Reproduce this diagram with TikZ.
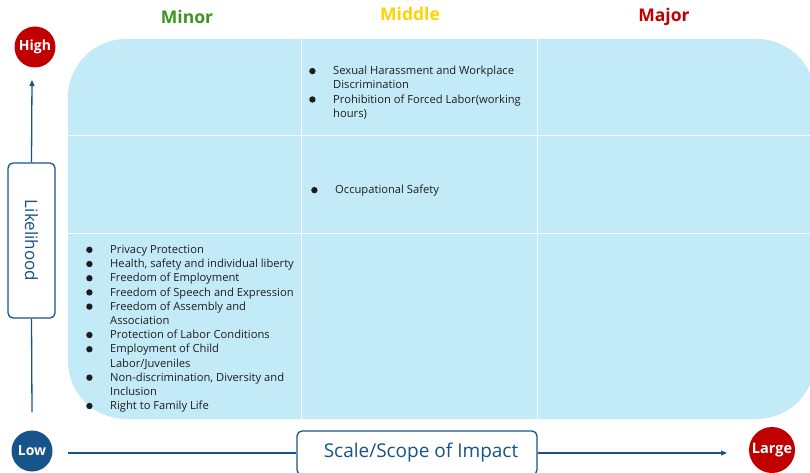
\documentclass[tikz,border=0pt]{standalone}
\usepackage{graphicx}
\usepackage{fontspec}
\setmainfont{Open Sans}
\usetikzlibrary{arrows.meta,positioning}

\definecolor{cellblue}{HTML}{C3EBF7}
\definecolor{axisblue}{HTML}{16548A}
\definecolor{majorred}{HTML}{C00000}
\definecolor{minorgreen}{HTML}{3A961E}
\definecolor{middleyellow}{HTML}{FFD200}
\definecolor{itemtext}{HTML}{1E1E1E}

\newcommand{\riskbullet}{\makebox[24pt][l]{\tikz[baseline=-3.6pt]\fill (4.5pt,0pt) circle (3.2pt);}}
\newcommand{\riskindent}{\hspace*{24pt}}

\begin{document}
\begin{tikzpicture}[
    x=1pt, y=-1pt,
    heading/.style={font=\fontsize{17.5}{17.5}\selectfont\bfseries},
    endpoint/.style={circle, minimum size=41pt, inner sep=0pt, text=white, font=\fontsize{14}{14}\selectfont\bfseries},
    axisbox/.style={draw=axisblue, line width=1.3pt, rounded corners=5pt, fill=white, text=axisblue, inner sep=0pt},
    items/.style={align=left, anchor=north west, inner sep=0pt, text=itemtext, font=\fontsize{11.2}{14.2}\selectfont},
    celldivider/.style={white, line width=0.8pt},
    axisplain/.style={draw=axisblue, line width=1.3pt},
    axisline/.style={axisplain, -{Triangle[length=6pt,width=5pt]}}
]
\useasboundingbox (0,0) rectangle (810,473);

% Risk matrix background
\fill[cellblue, rounded corners=58pt] (68,39) rectangle (815,419);
\draw[celldivider] (301,39) -- (301,419);
\draw[celldivider] (537,39) -- (537,419);
\draw[celldivider] (68,135) -- (815,135);
\draw[celldivider] (68,233) -- (815,233);

% Impact levels (top)
\node[heading, text=minorgreen] (minor) at (187,17) {Minor};
\node[heading, text=middleyellow] (middle) at (410,14) {Middle};
\node[heading, text=majorred] (major) at (664,17) {Major};

% Axis end points
\node[endpoint, fill=majorred] (high) at (35,47) {High};
\node[endpoint, fill=axisblue] (low) at (32,451) {Low};
\node[endpoint, fill=majorred, minimum size=46pt, font=\fontsize{14.5}{14.5}\selectfont\bfseries] (large) at (772,450) {Large};

% Axis titles
\node[axisbox, minimum width=47pt, minimum height=155pt] (likely) at (31.5,240.5) {\rotatebox{-90}{\fontsize{17}{17}\selectfont Likelihood}};
\node[axisbox, minimum width=240pt, minimum height=44pt, font=\fontsize{19}{19}\selectfont] (scale) at (417,453) {\hspace*{8pt}Scale/Scope of Impact};

% Axes
\coordinate (ybottom) at (32,412);
\coordinate (ytop) at (32,80);
\coordinate (xstart) at (68,453);
\coordinate (xend) at (727,453);
\draw[axisplain] (ybottom) -- (likely.south);
\draw[axisline] (likely.north) -- (ytop);
\draw[axisplain] (xstart) -- (scale.west);
\draw[axisline] (scale.east) -- (xend);

% Risk items
\node[items] (middlehigh) at (309,66) {\riskbullet Sexual Harassment and Workplace\\
    \riskindent Discrimination\\
    \riskbullet Prohibition of Forced Labor(working\\
    \riskindent hours)};
\node[items] (middlemid) at (311,185) {\riskbullet Occupational Safety};
\node[items] (minorlow) at (86,245) {\riskbullet Privacy Protection\\
    \riskbullet Health, safety and individual liberty\\
    \riskbullet Freedom of Employment\\
    \riskbullet Freedom of Speech and Expression\\
    \riskbullet Freedom of Assembly and\\
    \riskindent Association\\
    \riskbullet Protection of Labor Conditions\\
    \riskbullet Employment of Child\\
    \riskindent Labor/Juveniles\\
    \riskbullet Non-discrimination, Diversity and\\
    \riskindent Inclusion\\
    \riskbullet Right to Family Life};

\end{tikzpicture}
\end{document}
